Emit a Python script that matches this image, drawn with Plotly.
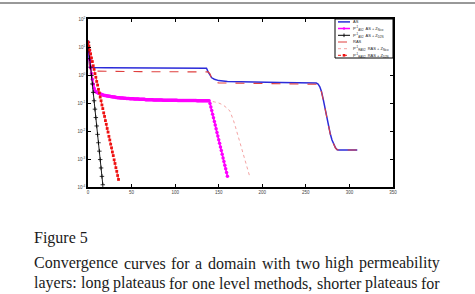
import plotly.graph_objects as go

# ---------------- data (log10 of residual) ----------------
as_iter = [0, 1, 2, 20, 60, 100, 136, 138, 140, 142, 145, 150, 160, 180, 220, 262,
           264, 266, 268, 270, 272, 274, 276, 278, 280, 282, 284, 286, 288, 309]
as_log10 = [1.17, 0.60, 0.27, 0.26, 0.255, 0.25, 0.24, 0.10, -0.02, -0.10, -0.15, -0.20,
            -0.23, -0.25, -0.27, -0.29, -0.32, -0.42, -0.60, -0.88, -1.20, -1.52, -1.82,
            -2.10, -2.32, -2.48, -2.60, -2.67, -2.68, -2.68]

ras_iter = [0, 1, 2, 3, 20, 60, 100, 138, 140, 142, 144, 146, 150, 200, 262,
            264, 266, 268, 270, 272, 274, 276, 278, 280, 282, 284, 286, 288, 309]
ras_log10 = [1.17, 0.60, 0.20, 0.14, 0.13, 0.12, 0.115, 0.11, 0.04, -0.13, -0.22, -0.27,
             -0.28, -0.30, -0.31, -0.33, -0.43, -0.61, -0.89, -1.21, -1.53, -1.83, -2.11,
             -2.33, -2.49, -2.61, -2.67, -2.68, -2.68]

mag_log10 = [1.17, 0.85, 0.55, 0.28, 0.05, -0.15, -0.33, -0.47, -0.56, -0.60,
             -0.62, -0.63, -0.65, -0.66, -0.67, -0.69, -0.70, -0.71, -0.72, -0.73,
             -0.73, -0.74, -0.75, -0.75, -0.76, -0.76, -0.77, -0.78, -0.78, -0.79,
             -0.79, -0.79, -0.80, -0.80, -0.81, -0.81, -0.81, -0.82, -0.82, -0.82,
             -0.82, -0.83, -0.83, -0.83, -0.84, -0.84, -0.84, -0.84, -0.85, -0.85,
             -0.85, -0.85, -0.85, -0.86, -0.86, -0.86, -0.86, -0.86, -0.86, -0.87,
             -0.87, -0.87, -0.87, -0.87, -0.87, -0.87, -0.88, -0.88, -0.88, -0.88,
             -0.88, -0.88, -0.88, -0.88, -0.88, -0.89, -0.89, -0.89, -0.89, -0.89,
             -0.89, -0.89, -0.89, -0.89, -0.89, -0.89, -0.90, -0.90, -0.90, -0.90,
             -0.90, -0.90, -0.90, -0.90, -0.90, -0.90, -0.90, -0.90, -0.90, -0.90,
             -0.90, -0.90, -0.90, -0.91, -0.91, -0.91, -0.91, -0.91, -0.91, -0.91,
             -0.91, -0.91, -0.91, -0.91, -0.91, -0.91, -0.91, -0.91, -0.91, -0.91,
             -0.91, -0.91, -0.91, -0.91, -0.91, -0.92, -0.92, -0.92, -0.92, -0.92,
             -0.92, -0.92, -0.92, -0.92, -0.92, -0.92, -0.92, -0.92, -0.92, -0.92,
             -1.02, -1.14, -1.27, -1.40, -1.53, -1.66, -1.79, -1.92, -2.05, -2.18,
             -2.31, -2.44, -2.57, -2.70, -2.83, -2.96, -3.09, -3.22, -3.35, -3.48, -3.62]
mag_iter = list(range(len(mag_log10)))

blk_log10 = [1.17, 0.88, 0.58, 0.28, -0.02, -0.32, -0.62, -0.92, -1.22, -1.52,
             -1.82, -2.12, -2.42, -2.72, -3.02, -3.32, -3.62, -3.92]
blk_iter = list(range(len(blk_log10)))

pink_iter = [0, 1, 2, 3, 4, 5, 6, 7, 8, 9, 10, 15, 20, 30, 40, 60, 80, 100, 120, 140,
             145, 150, 155, 158, 161, 163, 165, 167, 169, 171, 173, 175, 177, 179, 181,
             183, 185, 186]
pink_log10 = [1.17, 0.88, 0.60, 0.33, 0.10, -0.10, -0.28, -0.43, -0.53, -0.58, -0.61,
              -0.68, -0.72, -0.78, -0.82, -0.86, -0.88, -0.90, -0.91, -0.93, -0.96, -1.00,
              -1.07, -1.13, -1.22, -1.30, -1.45, -1.63, -1.83, -2.04, -2.27, -2.50, -2.72,
              -2.94, -3.16, -3.37, -3.57, -3.67]

red_log10 = [1.17, 1.04, 0.89, 0.76, 0.61, 0.48, 0.33, 0.20, 0.05, -0.08, -0.23, -0.36,
             -0.51, -0.64, -0.79, -0.92, -1.07, -1.20, -1.35, -1.48, -1.63, -1.76, -1.91,
             -2.04, -2.19, -2.32, -2.47, -2.60, -2.75, -2.88, -3.03, -3.16, -3.31, -3.44,
             -3.59, -3.73]
red_iter = list(range(len(red_log10)))

x_ticks = [0, 50, 100, 150, 200, 250, 300, 350]
y_exps = [2, 1, 0, -1, -2, -3, -4]

legend_labels = [
    "AS",
    "P<sup>-1</sup><sub>AS2</sub>  AS + Z<sub>Nico</sub>",
    "P<sup>-1</sup><sub>AS2</sub>  AS + Z<sub>D2N</sub>",
    "RAS",
    "P<sup>-1</sup><sub>RAS2</sub>  RAS + Z<sub>Nico</sub>",
    "P<sup>-1</sup><sub>RAS2</sub>  RAS + Z<sub>D2N</sub>",
]

caption_title = "Figure 5"
caption_lines = [
    "Convergence curves for a domain with two high permeability",
    "layers: long plateaus for one level methods, shorter plateaus for",
]

# ---------------- geometry helpers (pixel -> paper) ----------------
L, R, T, B = 88, 393, 19, 187
W, H = 475, 294


def px(xp):
    return (xp - L) / (R - L)


def py(yp):
    return (B - yp) / (B - T)


def pw(v):
    return [10 ** e for e in v]


BLUE = "#2b2bd9"
MAG = "#ff00ff"
RED_D = "#e0403f"
PINK = "#f4a3a3"
RED = "#ee1111"

fig = go.Figure()
fig.add_trace(go.Scatter(x=as_iter, y=pw(as_log10), mode="lines",
                         line=dict(color=BLUE, width=1.5), showlegend=False))
fig.add_trace(go.Scatter(x=ras_iter, y=pw(ras_log10), mode="lines",
                         line=dict(color=RED_D, width=1.1, dash="dash"), showlegend=False))
fig.add_trace(go.Scatter(x=pink_iter, y=pw(pink_log10), mode="lines",
                         line=dict(color=PINK, width=1.0, dash="dot"), showlegend=False))
fig.add_trace(go.Scatter(x=mag_iter, y=pw(mag_log10), mode="lines+markers",
                         line=dict(color=MAG, width=1.5),
                         marker=dict(color=MAG, size=3.5, symbol="circle"), showlegend=False))
fig.add_trace(go.Scatter(x=blk_iter, y=pw(blk_log10), mode="lines+markers",
                         line=dict(color="black", width=0.9),
                         marker=dict(color="black", size=3.2, symbol="cross-thin",
                                     line=dict(color="black", width=0.8)), showlegend=False))
fig.add_trace(go.Scatter(x=red_iter, y=pw(red_log10), mode="lines+markers",
                         line=dict(color=RED, width=0.8, dash="dot"),
                         marker=dict(color=RED, size=2.8, symbol="square"), showlegend=False))

axis_common = dict(showline=True, linecolor="black", linewidth=1.6, mirror="ticks",
                   ticks="inside", ticklen=3, tickwidth=0.8, tickcolor="black",
                   showgrid=False, zeroline=False,
                   tickfont=dict(family="Arial", size=4.5, color="#444"))

fig.update_xaxes(range=[0, 350], tickvals=x_ticks, ticktext=[str(v) for v in x_ticks],
                 **axis_common)
fig.update_yaxes(type="log", range=[-4, 2], tickvals=[10 ** e for e in y_exps],
                 ticktext=["10<sup>%d</sup>" % e for e in y_exps], **axis_common)

shapes = []
annotations = []

# page header rule at top
shapes.append(dict(type="line", xref="paper", yref="paper", x0=px(0), x1=px(W),
                   y0=py(3), y1=py(3), line=dict(color="#333", width=1)))

# legend box
lg_x0, lg_x1, lg_y0, lg_y1 = 335, 393, 19, 58
shapes.append(dict(type="rect", xref="paper", yref="paper", x0=px(lg_x0), x1=px(lg_x1),
                   y0=py(lg_y1), y1=py(lg_y0), line=dict(color="black", width=1),
                   fillcolor="white", layer="above"))
rows = [21.9, 28.5, 35.3, 42.0, 48.7, 55.3]
styles = [
    (BLUE, "solid", 1.5, None),
    (MAG, "solid", 1.5, "dot"),
    ("black", "solid", 1.0, "plus"),
    (RED_D, "dash", 1.0, None),
    (PINK, "dot", 1.0, None),
    (RED, "dot", 1.0, "square"),
]
for yr, (col, dash, wd, mk), lab in zip(rows, styles, legend_labels):
    shapes.append(dict(type="line", xref="paper", yref="paper", x0=px(338), x1=px(350),
                       y0=py(yr), y1=py(yr), line=dict(color=col, width=wd, dash=dash),
                       layer="above"))
    if mk == "dot":
        shapes.append(dict(type="circle", xref="paper", yref="paper", x0=px(342.8),
                           x1=px(345.2), y0=py(yr + 1.2), y1=py(yr - 1.2),
                           fillcolor=col, line=dict(width=0), layer="above"))
    elif mk == "square":
        shapes.append(dict(type="rect", xref="paper", yref="paper", x0=px(342.7),
                           x1=px(345.3), y0=py(yr + 1.3), y1=py(yr - 1.3),
                           fillcolor=col, line=dict(width=0), layer="above"))
    elif mk == "plus":
        shapes.append(dict(type="line", xref="paper", yref="paper", x0=px(344), x1=px(344),
                           y0=py(yr + 1.8), y1=py(yr - 1.8),
                           line=dict(color=col, width=0.9), layer="above"))
    annotations.append(dict(xref="paper", yref="paper", x=px(351.5), y=py(yr), text=lab,
                            showarrow=False, xanchor="left", yanchor="middle",
                            font=dict(family="Arial", size=4, color="#222"),
                            borderpad=0))

# caption text below the chart (serif, justified per word)
serif = "Liberation Serif, Times New Roman, serif"
FS = 16
annotations.append(dict(xref="paper", yref="paper", x=px(33), y=py(238), text=caption_title,
                        showarrow=False, xanchor="left", yanchor="middle",
                        font=dict(family=serif, size=FS, color="#1a1a1a"), borderpad=0))

cw = {'a': .444, 'b': .5, 'c': .444, 'd': .5, 'e': .444, 'f': .333, 'g': .5, 'h': .5,
      'i': .278, 'l': .278, 'm': .778, 'n': .5, 'o': .5, 'p': .5, 'r': .333, 's': .389,
      't': .278, 'u': .5, 'v': .5, 'w': .722, 'y': .5, 'C': .667, ':': .278, ',': .25}
line_left, line_right = 33, 439
for line, yc in zip(caption_lines, [263, 283]):
    words = line.split(" ")
    widths = [sum(cw.get(ch, .5) for ch in wdd) * FS for wdd in words]
    gap = (line_right - line_left - sum(widths)) / (len(words) - 1)
    xcur = line_left
    for wdd, wv in zip(words, widths):
        annotations.append(dict(xref="paper", yref="paper", x=px(xcur), y=py(yc), text=wdd,
                                showarrow=False, xanchor="left", yanchor="middle",
                                font=dict(family=serif, size=FS, color="#1a1a1a"),
                                borderpad=0))
        xcur += wv + gap

fig.update_layout(width=W, height=H, margin=dict(l=L, r=W - R, t=T, b=H - B),
                  paper_bgcolor="white", plot_bgcolor="white", showlegend=False,
                  shapes=shapes, annotations=annotations)

fig.write_html("out.html")
